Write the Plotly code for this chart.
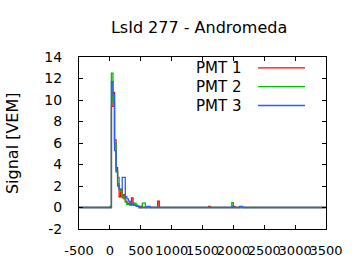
import plotly.graph_objects as go

# ---- data (signal in VEM per 25 ns bin, keyed by bin start time in ns) ----
bin_width = 25
t_min, t_max = -500, 3500
pmt_names = ["PMT 1", "PMT 2", "PMT 3"]
pmt_colors = ["#ff0000", "#00c000", "#2a5cff"]

pmt1_t = [25, 50, 75, 100, 125, 150, 175, 200, 225, 250, 275, 300, 325, 350, 375, 400, 425, 450, 500, 775, 1600, 2000]
pmt1_v = [9.4, 10.7, 6.3, 3.7, 2.2, 1.0, 1.6, 0.9, 1.2, 0.6, 0.4, 0.3, 0.5, 0.9, 0.3, 0.2, 0.2, 0.1, 0.1, 0.6, 0.1, 0.1]

pmt2_t = [0, 25, 50, 75, 100, 125, 150, 175, 200, 225, 250, 275, 300, 325, 350, 375, 400, 425, 450, 525, 550, 1975]
pmt2_v = [0.1, 12.5, 9.8, 6.0, 3.3, 2.8, 1.7, 1.5, 1.0, 0.8, 0.5, 0.3, 0.3, 0.2, 0.3, 0.3, 0.4, 0.2, 0.1, 0.4, 0.4, 0.45]

pmt3_t = [25, 50, 75, 100, 125, 150, 175, 200, 225, 250, 275, 300, 325, 350, 375, 400, 425, 450, 600, 625, 1975, 2100, 2125]
pmt3_v = [11.7, 10.5, 5.3, 3.4, 2.0, 1.7, 1.7, 2.8, 2.8, 1.0, 0.8, 0.6, 0.3, 0.4, 0.2, 0.2, 0.1, 0.1, 0.1, 0.1, 0.1, 0.1, 0.1]

x_ticks = [-500, 0, 500, 1000, 1500, 2000, 2500, 3000, 3500]
x_tick_labels = ["-500", "0", "500", "1000", "1500", "2000", "2500", "3000", "3500"]
y_ticks = [-2, 0, 2, 4, 6, 8, 10, 12, 14]
y_tick_labels = ["-2", "0", "2", "4", "6", "8", "10", "12", "14"]

title_text = "LsId 277 - Andromeda"
y_title = "Signal [VEM]"


def step_series(times, values):
    lookup = dict(zip(times, values))
    xs, ys = [], []
    t = t_min
    while t < t_max:
        xs.append(t)
        ys.append(lookup.get(t, 0.0))
        t += bin_width
    xs.append(t_max)
    ys.append(ys[-1])
    return xs, ys


fig = go.Figure()
for name, color, tt, vv in zip(pmt_names, pmt_colors, [pmt1_t, pmt2_t, pmt3_t], [pmt1_v, pmt2_v, pmt3_v]):
    xs, ys = step_series(tt, vv)
    fig.add_trace(go.Scatter(x=xs, y=ys, mode="lines", line=dict(color=color, width=1.3, shape="hv"),
                             name=name, showlegend=False))

font = "DejaVu Sans"
axis_common = dict(showline=True, linecolor="black", linewidth=1, mirror="ticks", ticks="inside",
                   ticklen=4, tickcolor="black", showgrid=False, zeroline=False)

fig.update_xaxes(range=[t_min, t_max], tickvals=x_ticks, ticktext=x_tick_labels, tickangle=0,
                 ticklabelstandoff=9, tickfont=dict(family=font, size=13, color="black"), **axis_common)
fig.update_yaxes(range=[-2, 14], tickvals=y_ticks, ticktext=y_tick_labels, ticklabelstandoff=13,
                 tickfont=dict(family=font, size=14, color="black"), **axis_common)

# custom key: text on the left, line sample on the right
key_rows = [0.937, 0.828, 0.718]
for name, color, yy in zip(pmt_names, pmt_colors, key_rows):
    fig.add_annotation(x=0.664, y=yy, xref="paper", yref="paper", text=name, showarrow=False,
                       xanchor="right", yanchor="middle", font=dict(family=font, size=15, color="black"))
    fig.add_shape(type="line", xref="paper", yref="paper", x0=0.725, x1=0.915, y0=yy, y1=yy,
                  line=dict(color=color, width=1.3))

fig.add_annotation(x=-0.271, y=0.5, xref="paper", yref="paper", text=y_title, textangle=-90,
                   showarrow=False, xanchor="center", yanchor="middle",
                   font=dict(family=font, size=16, color="black"))

fig.update_layout(
    width=360, height=270,
    margin=dict(l=79, r=34, t=57, b=39),
    paper_bgcolor="white", plot_bgcolor="white",
    title=dict(text=title_text, x=0.553, xanchor="center", y=0.9, yanchor="middle",
               font=dict(family=font, size=16, color="black")),
)

fig.write_html("out.html")
